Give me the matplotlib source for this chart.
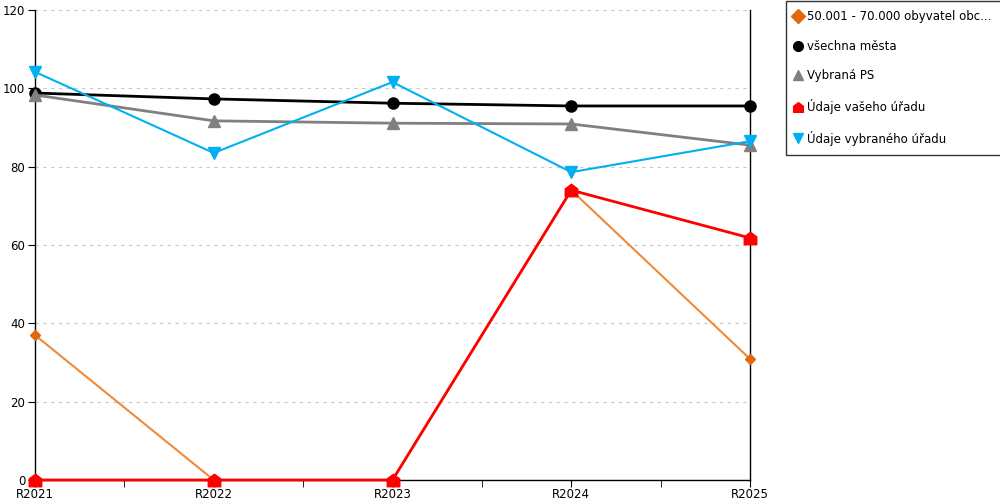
import matplotlib
matplotlib.use("Agg")
import matplotlib.pyplot as plt
from matplotlib.path import Path

categories = ["R2021", "R2022", "R2023", "R2024", "R2025"]
obce_50_70 = [37.0, 0.0, 0.0, 74.0, 30.9]
vsechna_mesta = [98.8, 97.3, 96.2, 95.5, 95.5]
vybrana_ps = [98.3, 91.7, 91.1, 90.9, 85.5]
vas_urad = [0.0, 0.0, 0.0, 74.0, 61.8]
vybrany_urad = [104.2, 83.5, 101.6, 78.6, 86.5]
series_names = ["50.001 - 70.000 obyvatel obc...", "všechna města", "Vybraná PS",
                "Údaje vašeho úřadu", "Údaje vybraného úřadu"]
yticks = [0, 20, 40, 60, 80, 100, 120]

house = Path([(-1, -1), (1, -1), (1, 0.25), (0, 1), (-1, 0.25), (-1, -1)],
             [Path.MOVETO, Path.LINETO, Path.LINETO, Path.LINETO, Path.LINETO, Path.CLOSEPOLY])

plt.rcParams['font.family'] = ['DejaVu Sans']
fig = plt.figure(figsize=(10, 5), dpi=100)
ax = fig.add_axes([0.035, 0.04, 0.715, 0.94])
x = list(range(len(categories)))

h1, = ax.plot(x, obce_50_70, color='#EE8A3A', lw=1.5, marker='D', ms=5.5,
              mfc='#E2680E', mec='#E2680E', zorder=3)
h2, = ax.plot(x, vsechna_mesta, color='black', lw=2, marker='o', ms=8, zorder=4)
h3, = ax.plot(x, vybrana_ps, color='#808080', lw=2, marker='^', ms=9, zorder=4)
h4, = ax.plot(x, vas_urad, color='#FF0000', lw=2, marker=house, ms=9, zorder=5)
h5, = ax.plot(x, vybrany_urad, color='#00B0F0', lw=1.5, marker='v', ms=9, zorder=5)

ax.set_xlim(0, 4)
ax.set_ylim(0, 120)
ax.set_yticks(yticks)
ax.set_xticks(x)
ax.set_xticklabels(categories)
ax.set_xticks([0.5, 1.5, 2.5, 3.5], minor=True)
ax.tick_params(axis='x', which='both', length=5, direction='out', labelsize=8.5, pad=1)
ax.tick_params(axis='y', length=5, direction='out', labelsize=8.5, pad=2)
ax.spines['top'].set_visible(False)
for s in ['left', 'right', 'bottom']:
    ax.spines[s].set_color('black')
    ax.spines[s].set_linewidth(1)
ax.yaxis.grid(True, color='#C8C8C8', ls=(0, (3, 4)), lw=0.8)
ax.set_axisbelow(True)
for ln in [h1, h2, h3, h4, h5]:
    ln.set_clip_on(False)

leg = fig.legend([h1, h2, h3, h4, h5], series_names, loc='upper left',
                 bbox_to_anchor=(0.786, 0.998), frameon=True, fancybox=False,
                 edgecolor='black', fontsize=8.5, handlelength=0.4, handletextpad=0.6,
                 labelspacing=1.4, borderpad=0.8, borderaxespad=0)
for lh in leg.legend_handles:
    lh.set_linestyle('none')
    lh.set_markersize(7)
leg.get_frame().set_linewidth(1)

fig.savefig("out.png", dpi=100)
